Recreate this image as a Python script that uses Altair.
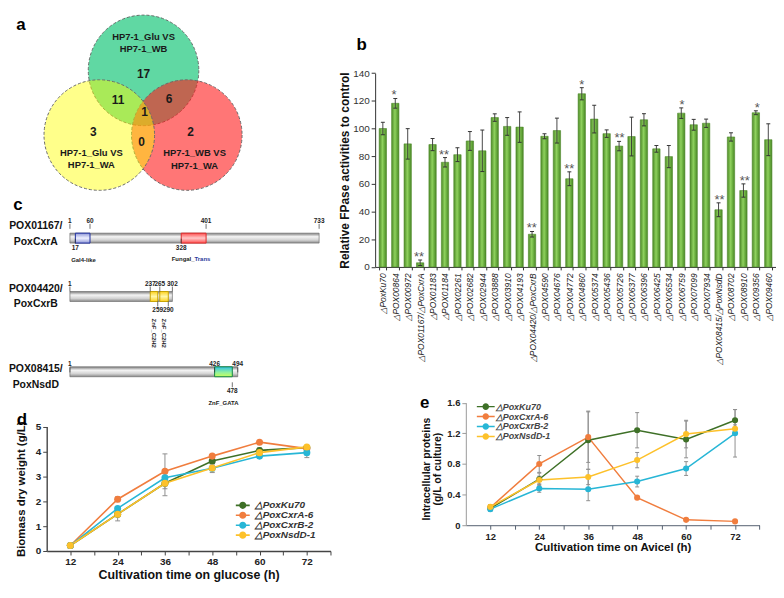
import altair as alt
import pandas as pd

FONT = "Liberation Sans"
LEFT_W, LEFT_H = 286, 545
RIGHT_W, RIGHT_H = 404, 519

# ---------------- panel a : Venn diagram ----------------
venn_sets = ["HP7-1_Glu VS HP7-1_WB", "HP7-1_WB VS HP7-1_WA", "HP7-1_Glu VS HP7-1_WA"]
venn_cx = [134.6, 178.2, 90.0]
venn_cy = [60.6, 125.8, 125.8]
venn_fill = ["#22c97f", "#ff1a1a", "#ffff00"]
venn_alpha = [0.72, 0.6, 0.46]
venn_label_text = ["HP7-1_Glu VS", "HP7-1_WB", "HP7-1_WB VS", "HP7-1_WA", "HP7-1_Glu VS", "HP7-1_WA"]
venn_label_x = [134.6, 134.6, 186.0, 186.0, 82.0, 82.0]
venn_label_y = [26.9, 39.4, 144.0, 156.6, 144.0, 155.6]
venn_counts = ["17", "11", "6", "1", "3", "0", "2"]
venn_count_x = [134.6, 109.0, 160.4, 135.6, 84.0, 132.7, 182.0]
venn_count_y = [64.4, 90.2, 89.3, 102.8, 122.9, 132.4, 122.9]

# ---------------- panel b : FPase bars ----------------
genes_b = ["△PoxKu70", "△POX00864", "△POX00972", "△POX01167/△PoxCxrA", "△POX01183",
           "△POX01184", "△POX02261", "△POX02682", "△POX02944", "△POX03888", "△POX03910",
           "△POX04193", "△POX04420/△PoxCxrB", "△POX04590", "△POX04676", "△POX04772",
           "△POX04860", "△POX05374", "△POX05436", "△POX05726", "△POX06377", "△POX06396",
           "△POX06425", "△POX06534", "△POX06759", "△POX07099", "△POX07934",
           "△POX08415/△PoxNsdD", "△POX08702", "△POX08910", "△POX09356", "△POX09460"]
fpase = [100, 118.2, 88.9, 3, 88.4, 75.6, 81.1, 91, 83.9, 107.9, 101.5, 101, 23.6, 94.4, 98.5, 63.7,
         125.1, 106.8, 96.3, 87.3, 94.2, 106.3, 85.3, 79.7, 111.1, 102.7, 103.8, 41.3, 93.9, 55.2, 111.4, 91.9]
fpase_err = [4.5, 3.5, 11, 2, 4.4, 3.4, 5, 6.8, 15, 2.7, 6.4, 11, 2, 1.8, 9, 5,
             4.4, 10, 2.7, 3.4, 14, 4.4, 2.4, 8, 3.8, 3.9, 3, 5, 3, 4.8, 1.4, 11.5]
signif = ["", "*", "", "**", "", "**", "", "", "", "", "", "", "**", "", "", "**",
          "*", "", "", "**", "", "", "", "", "*", "", "", "**", "", "**", "*", ""]

# ---------------- panel c : domain architecture ----------------
prot_ids = ["POX01167/", "POX04420/", "POX08415/"]
prot_names = ["PoxCxrA", "PoxCxrB", "PoxNsdD"]
prot_len = [733, 302, 494]
dom_kind = ["Gal4", "Fungal", "C2H2", "C2H2", "GATA"]
dom_row = [0, 0, 1, 1, 2]
dom_start = [17, 328, 237, 265, 426]
dom_end = [60, 401, 259, 290, 478]
num_up_row = [0, 0, 0, 0, 1, 1, 1, 1, 2, 2, 2]
num_up_pos = [1, 60, 401, 733, 1, 237, 265, 302, 1, 426, 494]
num_dn_row = [0, 0, 1, 1, 2]
num_dn_pos = [17, 328, 259, 290, 478]

# ---------------- panels d, e : time courses ----------------
hours = [12, 24, 36, 48, 60, 72]
strain_labels = ["△PoxKu70", "△PoxCxrA-6", "△PoxCxrB-2", "△PoxNsdD-1"]
strain_colors = ["#3e7027", "#f07d3e", "#27b6d6", "#fdc12a"]
biomass_ku70 = [0.22, 1.48, 2.72, 3.61, 4.04, 4.15]
biomass_cxra = [0.22, 2.08, 3.20, 3.81, 4.37, 4.11]
biomass_cxrb = [0.22, 1.71, 2.94, 3.32, 3.81, 3.95]
biomass_nsdd = [0.22, 1.48, 2.72, 3.33, 3.95, 4.18]
biomass_err_ku70 = [0.03, 0.10, 0.50, 0.12, 0.10, 0.08]
biomass_err_cxra = [0.03, 0.10, 0.70, 0.06, 0.05, 0.06]
biomass_err_cxrb = [0.03, 0.08, 0.10, 0.10, 0.08, 0.20]
biomass_err_nsdd = [0.03, 0.27, 0.10, 0.18, 0.06, 0.05]
prot_ku70 = [0.22, 0.60, 1.11, 1.24, 1.12, 1.37]
prot_cxra = [0.23, 0.80, 1.15, 0.36, 0.07, 0.05]
prot_cxrb = [0.21, 0.48, 0.47, 0.57, 0.74, 1.20]
prot_nsdd = [0.24, 0.59, 0.63, 0.85, 1.19, 1.26]
prot_err_ku70 = [0.03, 0.08, 0.38, 0.23, 0.24, 0.14]
prot_err_cxra = [0.04, 0.11, 0.33, 0.02, 0.01, 0.01]
prot_err_cxrb = [0.03, 0.05, 0.15, 0.07, 0.09, 0.31]
prot_err_nsdd = [0.03, 0.05, 0.10, 0.10, 0.18, 0.05]


def letter(ch, px, py):
    return alt.Chart(pd.DataFrame({"t": [ch]})).mark_text(
        fontSize=17, fontWeight="bold", color="#000").encode(
        x=alt.value(px), y=alt.value(py), text="t:N")


def grad(colors, offsets, horizontal):
    stops = [alt.GradientStop(color=c, offset=o) for c, o in zip(colors, offsets)]
    if horizontal:
        return alt.LinearGradient(gradient="linear", stops=stops, x1=0, x2=1, y1=0, y2=0)
    return alt.LinearGradient(gradient="linear", stops=stops, x1=0, x2=0, y1=0, y2=1)


left_charts = []
right_charts = []

# ======== panel a ========
xa = alt.Scale(domain=[37, 323], nice=False, zero=False)
ya = alt.Scale(domain=[0, LEFT_H], range=[0, LEFT_H], nice=False, zero=False)
venn_df = pd.DataFrame({"set": venn_sets, "cx": venn_cx, "cy": venn_cy,
                        "fill": venn_fill, "alpha": venn_alpha})
left_charts.append(alt.Chart(venn_df).mark_point(
    shape="circle", filled=True, size=111.4 ** 2, opacity=1,
    stroke="#6a6a6a", strokeWidth=1, strokeDash=[3, 2]).encode(
    x=alt.X("cx:Q", scale=xa, axis=None),
    y=alt.Y("cy:Q", scale=ya, axis=None),
    fill=alt.Fill("fill:N", scale=None, legend=None),
    fillOpacity=alt.FillOpacity("alpha:Q", scale=None, legend=None),
))
left_charts.append(alt.Chart(pd.DataFrame({"t": venn_label_text, "x": venn_label_x, "y": venn_label_y})).mark_text(
    fontSize=9.5, fontWeight="bold", color="#1a1a1a").encode(
    x=alt.X("x:Q", scale=xa, axis=None), y=alt.Y("y:Q", scale=ya, axis=None), text="t:N"))
left_charts.append(alt.Chart(pd.DataFrame({"t": venn_counts, "x": venn_count_x, "y": venn_count_y})).mark_text(
    fontSize=12, fontWeight="bold", color="#1a1a1a").encode(
    x=alt.X("x:Q", scale=xa, axis=None), y=alt.Y("y:Q", scale=ya, axis=None), text="t:N"))
left_charts.append(letter("a", -26, 15.2))

# ======== panel c ========
xc = alt.Scale(domain=[-67.2, 766.4], nice=False, zero=False)
yc = alt.Scale(domain=[0, 1, 2], range=[225.3, 288.5, 370.0], nice=False, zero=False)
prot_df = pd.DataFrame({"row": [0, 1, 2], "id": prot_ids, "name": prot_names,
                        "start": [1, 1, 1], "len": prot_len})
gray_grad = grad(["#7d7d7d", "#f4f4f4", "#d2d2d2", "#8a8a8a"], [0, 0.35, 0.7, 1], False)
left_charts.append(alt.Chart(prot_df).mark_bar(size=10, fill=gray_grad, stroke="#707070", strokeWidth=0.7,
                                               orient="horizontal").encode(
    x=alt.X("start:Q", scale=xc, axis=None), x2="len:Q", y=alt.Y("row:Q", scale=yc, axis=None)))

dom_df = pd.DataFrame({"kind": dom_kind, "row": dom_row, "s": dom_start, "e": dom_end})
dom_styles = {
    "Gal4": (grad(["#8f98d8", "#eef0ff", "#8f98d8"], [0, 0.5, 1], False), "#1f2f9f"),
    "Fungal": (grad(["#ff5050", "#ffc8c8", "#ff5050"], [0, 0.5, 1], False), "#e02a2a"),
    "C2H2": (grad(["#ffd21f", "#fff7a8", "#ffd21f"], [0, 0.5, 1], False), "#c9a400"),
    "GATA": (grad(["#2ec0e6", "#8ff0a0", "#c8ff5a"], [0, 0.55, 1], False), "#118844"),
}
for kind, (fillg, strk) in dom_styles.items():
    left_charts.append(
        alt.Chart(dom_df[dom_df["kind"] == kind]).mark_bar(
            size=10, fill=fillg, stroke=strk, strokeWidth=1, orient="horizontal").encode(
            x=alt.X("s:Q", scale=xc, axis=None), x2="e:Q", y=alt.Y("row:Q", scale=yc, axis=None)))

up_df = pd.DataFrame({"row": num_up_row, "pos": num_up_pos, "t": [str(p) for p in num_up_pos]})
dn_df = pd.DataFrame({"row": num_dn_row, "pos": num_dn_pos, "t": [str(p) for p in num_dn_pos]})
left_charts.append(alt.Chart(up_df).mark_rule(yOffset=-5, y2Offset=-10, color="#333", strokeWidth=0.7).encode(
    x=alt.X("pos:Q", scale=xc, axis=None), y=alt.Y("row:Q", scale=yc, axis=None), y2="row:Q"))
left_charts.append(alt.Chart(dn_df).mark_rule(yOffset=5, y2Offset=10, color="#333", strokeWidth=0.7).encode(
    x=alt.X("pos:Q", scale=xc, axis=None), y=alt.Y("row:Q", scale=yc, axis=None), y2="row:Q"))
left_charts.append(alt.Chart(up_df).mark_text(dy=-13, fontSize=6.5, fontWeight="bold", color="#222").encode(
    x=alt.X("pos:Q", scale=xc, axis=None), y=alt.Y("row:Q", scale=yc, axis=None), text="t:N"))
left_charts.append(alt.Chart(dn_df).mark_text(dy=14, fontSize=6.5, fontWeight="bold", color="#222").encode(
    x=alt.X("pos:Q", scale=xc, axis=None), y=alt.Y("row:Q", scale=yc, axis=None), text="t:N"))
left_charts.append(alt.Chart(prot_df).mark_text(dy=-8, fontSize=10.5, fontWeight="bold", color="#111").encode(
    x=alt.value(-11), y=alt.Y("row:Q", scale=yc, axis=None), text="id:N"))
left_charts.append(alt.Chart(prot_df).mark_text(dy=8, fontSize=10.5, fontWeight="bold", color="#111").encode(
    x=alt.value(-11), y=alt.Y("row:Q", scale=yc, axis=None), text="name:N"))

lab_center = pd.DataFrame({"t": ["Gal4-like", "ZnF_GATA"], "row": [0, 2], "pos": [41, 452]})
left_charts.append(alt.Chart(lab_center).mark_text(fontSize=6, fontWeight="bold", color="#222", dy=26).encode(
    x=alt.X("pos:Q", scale=xc, axis=None), y=alt.Y("row:Q", scale=yc, axis=None), text="t:N"))
lab_fungal = pd.DataFrame({"t": ["Fungal_"], "row": [0], "pos": [367]})
left_charts.append(alt.Chart(lab_fungal).mark_text(fontSize=6, fontWeight="bold", color="#222", dy=25,
                                                   align="right").encode(
    x=alt.X("pos:Q", scale=xc, axis=None), y=alt.Y("row:Q", scale=yc, axis=None), text="t:N"))
lab_trans = pd.DataFrame({"t": ["Trans"], "row": [0], "pos": [367]})
left_charts.append(alt.Chart(lab_trans).mark_text(fontSize=6, fontWeight="bold", color="#2b3a9a", dy=25,
                                                  align="left").encode(
    x=alt.X("pos:Q", scale=xc, axis=None), y=alt.Y("row:Q", scale=yc, axis=None), text="t:N"))
lab_c2h2 = pd.DataFrame({"t": ["ZnF_C2H2", "ZnF_C2H2"], "row": [1, 1], "pos": [248, 277.5]})
left_charts.append(alt.Chart(lab_c2h2).mark_text(fontSize=6, fontWeight="bold", color="#222", angle=90,
                                                 dx=37).encode(
    x=alt.X("pos:Q", scale=xc, axis=None), y=alt.Y("row:Q", scale=yc, axis=None), text="t:N"))
left_charts.append(letter("c", -29, 196))


# ======== panels d & e ========
def long_table(values, errors):
    rows = []
    for name, vals, errs in zip(strain_labels, values, errors):
        for h, v, e in zip(hours, vals, errs):
            rows.append({"strain": name, "h": h, "v": v, "lo": v - e, "hi": v + e})
    return pd.DataFrame(rows)


def color_scale():
    return alt.Scale(domain=strain_labels, range=strain_colors)


def time_panel(df, xs, ys, xaxis, yaxis, legend, psize, lw, capw):
    err = alt.Chart(df).mark_rule(color="#8f8f8f", strokeWidth=1).encode(
        x=alt.X("h:Q", scale=xs, axis=xaxis), y=alt.Y("lo:Q", scale=ys, axis=yaxis), y2="hi:Q")
    cap_hi = alt.Chart(df).mark_tick(orient="horizontal", size=capw, thickness=1, color="#8f8f8f", opacity=1).encode(
        x=alt.X("h:Q", scale=xs, axis=None), y=alt.Y("hi:Q", scale=ys, axis=None))
    cap_lo = alt.Chart(df).mark_tick(orient="horizontal", size=capw, thickness=1, color="#8f8f8f", opacity=1).encode(
        x=alt.X("h:Q", scale=xs, axis=None), y=alt.Y("lo:Q", scale=ys, axis=None))
    line = alt.Chart(df).mark_line(strokeWidth=lw).encode(
        x=alt.X("h:Q", scale=xs, axis=None), y=alt.Y("v:Q", scale=ys, axis=None),
        color=alt.Color("strain:N", scale=color_scale(), legend=None))
    pts = alt.Chart(df).mark_circle(size=psize, opacity=1).encode(
        x=alt.X("h:Q", scale=xs, axis=None), y=alt.Y("v:Q", scale=ys, axis=None),
        color=alt.Color("strain:N", scale=color_scale(), legend=legend))
    return [err, cap_hi, cap_lo, line, pts]


tick_vals = list(range(12, 79, 6))
tick_expr = "datum.value % 12 == 0 && datum.value <= 72 ? datum.label : ''"

d_df = long_table([biomass_ku70, biomass_cxra, biomass_cxrb, biomass_nsdd],
                  [biomass_err_ku70, biomass_err_cxra, biomass_err_cxrb, biomass_err_nsdd])
xd = alt.Scale(domain=[6, 78], nice=False, zero=False)
yd = alt.Scale(domain=[0, 5], range=[LEFT_H, 419.5], nice=False, zero=False)
xd_axis = alt.Axis(orient="bottom", values=tick_vals, labelExpr=tick_expr,
                   title="Cultivation time on glucose (h)", titleFontSize=12.5, titleFontWeight="bold",
                   titleColor="#111", titlePadding=2, labelFontSize=10, labelFontWeight="bold",
                   labelColor="#222", labelPadding=2, tickSize=4, tickColor="#444",
                   domainColor="#444", domainWidth=1.4, grid=False)
yd_axis = alt.Axis(orient="left", values=[0, 1, 2, 3, 4, 5], title="Biomass dry weight (g/L)",
                   titleFontSize=11.5, titleFontWeight="bold", titleColor="#111", titlePadding=9,
                   labelFontSize=10, labelFontWeight="bold", labelColor="#222", labelPadding=2,
                   tickSize=4, tickColor="#444", domainColor="#444", domainWidth=1.4, grid=False)
d_path = "M-1.75,-0.2H1.75V0.2H-1.75Z M0.9,0A0.9,0.9,0,1,1,-0.9,0A0.9,0.9,0,1,1,0.9,0Z"
d_legend = alt.Legend(orient="none", legendX=192.6, legendY=494, title=None, symbolType=d_path,
                      symbolSize=64, symbolStrokeWidth=0, labelFontSize=10, labelFontStyle="italic",
                      labelFontWeight="bold", labelColor="#333", labelOffset=7, rowPadding=-3, padding=0)
left_charts += time_panel(d_df, xd, yd, xd_axis, yd_axis, d_legend, 50, 1.6, 5)
left_charts.append(letter("d", -25, 413))

left = alt.layer(*left_charts).resolve_scale(
    x="independent", y="independent", color="independent").resolve_axis(
    x="independent", y="independent").resolve_legend(color="independent").properties(
    width=LEFT_W, height=LEFT_H)

# ======== panel b ========
B_ZERO = 258.7
b_df = pd.DataFrame({"gene": genes_b, "v": fpase, "err": fpase_err, "sig": signif})
b_df["lo"] = b_df["v"] - b_df["err"]
b_df["hi"] = b_df["v"] + b_df["err"]


def xb_scale():
    return alt.Scale(domain=genes_b, paddingInner=0.41, paddingOuter=0.325)


def yb_scale():
    return alt.Scale(domain=[0, 140], range=[B_ZERO, 63.4], nice=False, zero=False)


xb_axis = alt.Axis(orient="bottom", offset=-(RIGHT_H - B_ZERO), labelAngle=-90, labelFontStyle="italic",
                   labelFontSize=8.5, labelColor="#222", title=None, tickBand="extent", tickSize=3,
                   tickColor="#333", domainColor="#333", labelPadding=3, grid=False)
yb_axis = alt.Axis(orient="left", values=list(range(0, 141, 20)),
                   title="Relative FPase activities to control", titleFontSize=12,
                   titleFontWeight="bold", titleColor="#111", titlePadding=1, labelFontSize=10,
                   labelColor="#333", labelPadding=2, tickSize=4, tickColor="#333",
                   domainColor="#333", grid=False)
green_grad = grad(["#4d8a27", "#8fd15e", "#6cb040", "#4a8526"], [0, 0.45, 0.7, 1], True)
right_charts.append(alt.Chart(b_df).mark_bar(fill=green_grad, stroke="#4f8a2c", strokeWidth=0.6).encode(
    x=alt.X("gene:N", sort=genes_b, scale=xb_scale(), axis=xb_axis),
    y=alt.Y("v:Q", scale=yb_scale(), axis=yb_axis)))
right_charts.append(alt.Chart(b_df).mark_rule(color="#333", strokeWidth=0.9).encode(
    x=alt.X("gene:N", sort=genes_b, scale=xb_scale(), axis=None),
    y=alt.Y("lo:Q", scale=yb_scale(), axis=None), y2="hi:Q"))
for fld in ["hi", "lo"]:
    right_charts.append(alt.Chart(b_df).mark_tick(orient="horizontal", size=4, thickness=1, color="#333",
                                                  opacity=1).encode(
        x=alt.X("gene:N", sort=genes_b, scale=xb_scale(), axis=None),
        y=alt.Y(f"{fld}:Q", scale=yb_scale(), axis=None)))
right_charts.append(alt.Chart(b_df[b_df["sig"] != ""]).mark_text(
    fontSize=13, color="#555", baseline="alphabetic", dy=1).encode(
    x=alt.X("gene:N", sort=genes_b, scale=xb_scale(), axis=None),
    y=alt.Y("hi:Q", scale=yb_scale(), axis=None), text="sig:N"))
right_charts.append(letter("b", -13.6, 35.5))

# ======== panel e ========
e_df = long_table([prot_ku70, prot_cxra, prot_cxrb, prot_nsdd],
                  [prot_err_ku70, prot_err_cxra, prot_err_cxrb, prot_err_nsdd])
xe = alt.Scale(domain=[6, 78], range=[91.4, 387.4], nice=False, zero=False)
ye = alt.Scale(domain=[0, 1.6], range=[RIGHT_H, 395.5], nice=False, zero=False)
xe_axis = alt.Axis(orient="bottom", values=tick_vals, labelExpr=tick_expr,
                   title="Cultivation time on Avicel (h)", titleFontSize=11.5, titleFontWeight="bold",
                   titleColor="#111", titlePadding=1, labelFontSize=9.5, labelFontWeight="bold",
                   labelColor="#222", labelPadding=2, tickSize=4, tickColor="#556070",
                   domainColor="#556070", grid=False)
ye_axis = alt.Axis(orient="left", offset=-91.4, values=[0, 0.4, 0.8, 1.2, 1.6],
                   labelExpr="datum.value == 0 ? '0' : format(datum.value, '.1f')",
                   title=["Intracellular proteins", "(g/L of culture)"], titleFontSize=10.5,
                   titleFontWeight="bold", titleColor="#111", titleLineHeight=11, titlePadding=4,
                   titleY=462, labelFontSize=9.5, labelFontWeight="bold", labelColor="#222",
                   labelPadding=2, tickSize=4, tickColor="#9a9a9a", domainColor="#9a9a9a", grid=False)
e_path = "M-2.57,-0.21H2.57V0.21H-2.57Z M0.94,0A0.94,0.94,0,1,1,-0.94,0A0.94,0.94,0,1,1,0.94,0Z"
e_legend = alt.Legend(orient="none", legendX=107, legendY=395, title=None, symbolType=e_path,
                      symbolSize=49, symbolStrokeWidth=0, labelFontSize=9, labelFontStyle="italic",
                      labelFontWeight="bold", labelColor="#444", labelOffset=5.5, rowPadding=-3, padding=0)
right_charts += time_panel(e_df, xe, ye, xe_axis, ye_axis, e_legend, 38, 1.5, 4)
right_charts.append(letter("e", 50, 396))

right = alt.layer(*right_charts).resolve_scale(
    x="independent", y="independent", color="independent").resolve_axis(
    x="independent", y="independent").resolve_legend(color="independent").properties(
    width=RIGHT_W, height=RIGHT_H)

chart = alt.hconcat(left, right, spacing=45, bounds="flush").properties(padding=0)
chart = chart.configure(font=FONT).configure_view(stroke=None)
chart.save("out.html", embed_options={"renderer": "svg", "actions": False})
